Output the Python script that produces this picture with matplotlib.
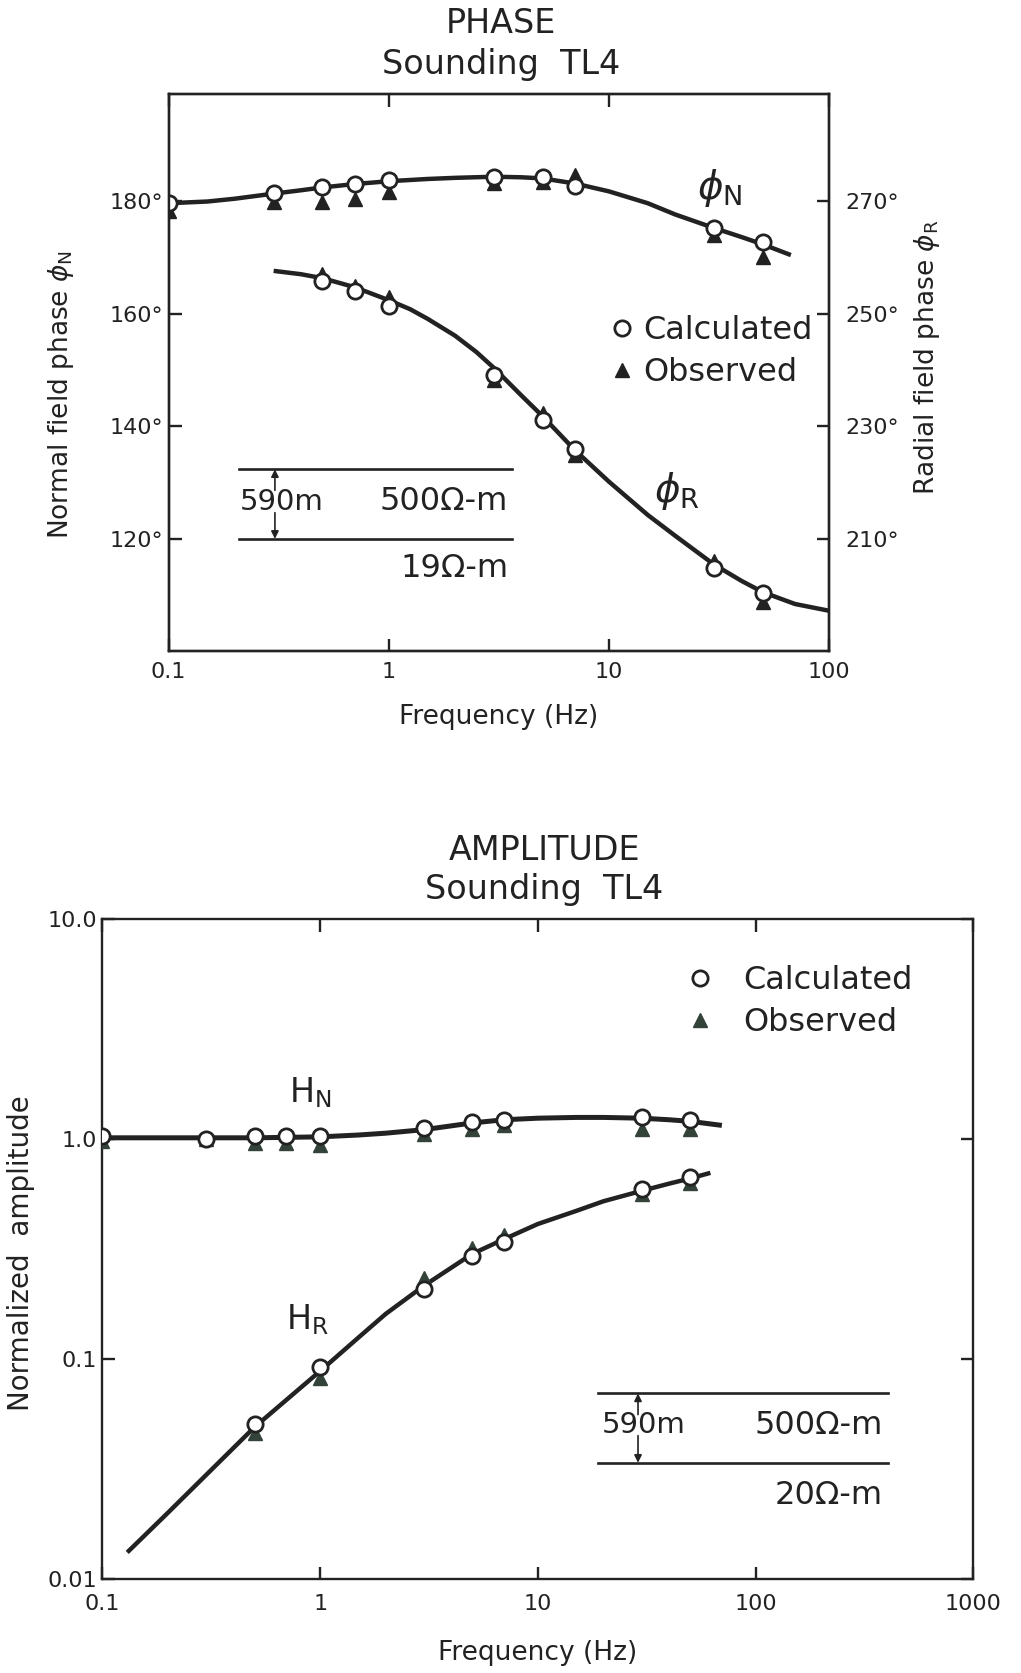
import matplotlib
matplotlib.use("Agg")
import matplotlib.pyplot as plt
from matplotlib.ticker import FixedLocator, FixedFormatter, NullLocator
from matplotlib.lines import Line2D

plt.rcParams['font.family'] = ['DejaVu Sans']
plt.rcParams['mathtext.fontset'] = 'dejavusans'

INK = '#222222'
TRI_AMP = '#34433a'

# ---- phase data (normal field on left axis, radial field on right axis) ----
freq_pts = [0.1, 0.3, 0.5, 0.7, 1, 3, 5, 7, 30, 50]
phiN_calc = [179.7, 181.5, 182.5, 183.0, 183.7, 184.3, 184.3, 182.7, 175.2, 172.7]
phiN_obs = [178.2, 179.8, 179.8, 180.3, 181.6, 183.1, 183.3, 184.6, 173.9, 170.1]

freq_curve_N = [0.1, 0.15, 0.2, 0.3, 0.4, 0.5, 0.7, 1, 1.5, 2, 3, 4, 5, 7, 10, 15, 20, 30, 40, 50, 67]
phiN_curve = [179.6, 179.9, 180.4, 181.3, 181.9, 182.4, 183.0, 183.5, 183.9, 184.1, 184.3,
              184.2, 184.0, 183.1, 181.7, 179.6, 177.6, 175.2, 173.6, 172.3, 170.4]

freq_R_pts = [0.5, 0.7, 1, 3, 5, 7, 30, 50]
phiR_calc = [255.8, 254.0, 251.3, 239.1, 231.1, 226.0, 204.9, 200.4]
phiR_obs = [257.0, 254.9, 253.0, 238.3, 232.3, 224.9, 206.2, 198.9]

freq_curve_R = [0.3, 0.4, 0.5, 0.7, 1, 1.25, 1.5, 2, 2.5, 3, 4, 5, 7, 10, 15, 20,
                30, 40, 50, 70, 100]
phiR_curve = [257.6, 257.0, 256.3, 254.7, 252.4, 250.8, 249.1, 246.1, 243.2, 240.4,
              235.5, 231.8, 225.8, 220.2, 214.3, 210.6, 205.5, 202.6, 200.6, 198.5, 197.3]

phase_left_ticks = [120, 140, 160, 180]
phase_right_ticks = [210, 230, 250, 270]
phase_x_ticks = [0.1, 1, 10, 100]
phase_x_labels = ['0.1', '1', '10', '100']

# ---- amplitude data ----
HN_calc = [1.03, 1.0, 1.03, 1.03, 1.03, 1.12, 1.19, 1.22, 1.25, 1.22]
HN_obs = [0.977, 1.0, 0.96, 0.96, 0.94, 1.05, 1.11, 1.16, 1.11, 1.11]

freq_curve_HN = [0.1, 0.3, 0.5, 1, 1.5, 2, 3, 5, 7, 10, 15, 20, 30, 40, 50, 70]
HN_curve = [1.01, 1.01, 1.01, 1.02, 1.04, 1.06, 1.10, 1.18, 1.22, 1.24, 1.25, 1.25,
            1.24, 1.22, 1.20, 1.15]

freq_HR_pts = [0.5, 1, 3, 5, 7, 30, 50]
HR_calc = [0.0507, 0.0917, 0.207, 0.292, 0.338, 0.593, 0.667]
HR_obs = [0.046, 0.0817, 0.232, 0.319, 0.365, 0.56, 0.63]

freq_curve_HR = [0.13, 0.2, 0.5, 1, 1.5, 2, 3, 5, 7, 10, 15, 20, 30, 40, 50, 62]
HR_curve = [0.0132, 0.02, 0.049, 0.088, 0.125, 0.16, 0.215, 0.30, 0.35, 0.41, 0.47,
            0.52, 0.58, 0.625, 0.66, 0.70]

amp_y_ticks = [0.01, 0.1, 1.0, 10.0]
amp_y_labels = ['0.01', '0.1', '1.0', '10.0']
amp_x_ticks = [0.1, 1, 10, 100, 1000]
amp_x_labels = ['0.1', '1', '10', '100', '1000']


def style_axis(ax):
    for s in ax.spines.values():
        s.set_linewidth(1.7)
        s.set_color(INK)
    ax.tick_params(which='major', direction='in', length=9, width=1.7,
                   colors=INK, labelsize=16)
    ax.xaxis.set_minor_locator(NullLocator())
    ax.yaxis.set_minor_locator(NullLocator())


def layer_arrows(ax, x, y_top, y_bot, y_mid, gap):
    # thickness arrows of the layer sketch, from the text out to both boundaries
    style = dict(arrowstyle='-|>', color=INK, lw=1.2, mutation_scale=11,
                 shrinkA=0, shrinkB=0)
    ax.annotate('', xy=(x, y_top), xytext=(x, y_mid + gap), xycoords='axes fraction',
                arrowprops=style)
    ax.annotate('', xy=(x, y_bot), xytext=(x, y_mid - gap), xycoords='axes fraction',
                arrowprops=style)


fig = plt.figure(figsize=(10.21, 16.73), dpi=100)

# ================= PHASE =================
ax = fig.add_axes([0.1651, 0.6110, 0.647, 0.3329])
ax.set_xscale('log')
ax.set_xlim(0.1, 100)
ax.set_ylim(100.2, 199)
style_axis(ax)
ax.xaxis.set_major_locator(FixedLocator(phase_x_ticks))
ax.xaxis.set_major_formatter(FixedFormatter(phase_x_labels))
ax.xaxis.set_minor_locator(NullLocator())
ax.set_yticks(phase_left_ticks)
ax.set_yticklabels([f'{t}°' for t in phase_left_ticks])
ax.tick_params(axis='x', top=True, pad=8)
ax.tick_params(axis='y', pad=4)

ax2 = ax.twinx()
ax2.set_ylim(190.2, 289)
style_axis(ax2)
ax2.set_yticks(phase_right_ticks)
ax2.set_yticklabels([f'{t}°' for t in phase_right_ticks])
ax2.tick_params(axis='y', pad=12)

ax.plot(freq_curve_N, phiN_curve, color=INK, lw=3.2, solid_capstyle='butt', zorder=2)
ax.plot(freq_pts, phiN_obs, ls='none', marker='^', ms=10, color=INK, zorder=3)
ax.plot(freq_pts, phiN_calc, ls='none', marker='o', ms=11, mfc='white',
        mec=INK, mew=2, zorder=4)

ax2.plot(freq_curve_R, phiR_curve, color=INK, lw=3.2, solid_capstyle='butt', zorder=2)
ax2.plot(freq_R_pts, phiR_obs, ls='none', marker='^', ms=10, color=INK, zorder=3)
ax2.plot(freq_R_pts, phiR_calc, ls='none', marker='o', ms=11, mfc='white',
         mec=INK, mew=2, zorder=4)

ax.text(25, 182.3, r'$\phi_{\mathrm{N}}$', fontsize=28, color=INK, va='center', ha='left')
ax.text(16, 128.5, r'$\phi_{\mathrm{R}}$', fontsize=28, color=INK, va='center', ha='left')

ax.set_xlabel('Frequency (Hz)', fontsize=19, color=INK)
ax.xaxis.set_label_coords(0.5, -0.095)
ax.set_ylabel(r'Normal field phase $\phi_{\mathrm{N}}$', fontsize=19, color=INK)
ax.yaxis.set_label_coords(-0.14, 0.46)
ax2.set_ylabel(r'Radial field phase $\phi_{\mathrm{R}}$', fontsize=19, color=INK,
               rotation=90)
ax2.yaxis.set_label_coords(1.125, 0.527)

handles = [Line2D([], [], ls='none', marker='o', ms=11, mfc='white', mec=INK, mew=2),
           Line2D([], [], ls='none', marker='^', ms=10, color=INK)]
leg = ax2.legend(handles, ['Calculated', 'Observed'], loc='upper left',
                 bbox_to_anchor=(0.672, 0.603), frameon=False, fontsize=23,
                 handlelength=0.6, handletextpad=0.35, borderpad=0,
                 borderaxespad=0, labelspacing=0.35)
for t in leg.get_texts():
    t.set_color(INK)

# layer model inset
ax.plot([0.107, 0.52], [0.326, 0.326], transform=ax.transAxes, color=INK, lw=1.9)
ax.plot([0.107, 0.52], [0.201, 0.201], transform=ax.transAxes, color=INK, lw=1.9)
layer_arrows(ax, 0.161, 0.326, 0.201, 0.268, 0.02)
ax.text(0.108, 0.268, '590m', transform=ax.transAxes, fontsize=21, color=INK,
        ha='left', va='center')
ax.text(0.514, 0.268, '500Ω-m', transform=ax.transAxes, fontsize=23, color=INK,
        ha='right', va='center')
ax.text(0.514, 0.147, '19Ω-m', transform=ax.transAxes, fontsize=23, color=INK,
        ha='right', va='center')

fig.text(0.491, 0.986, 'PHASE', fontsize=24, color=INK, ha='center', va='center')
fig.text(0.491, 0.9617, 'Sounding  TL4', fontsize=24, color=INK, ha='center', va='center')

# ================= AMPLITUDE =================
bx = fig.add_axes([0.1003, 0.0562, 0.853, 0.3947])
bx.set_xscale('log')
bx.set_yscale('log')
bx.set_xlim(0.1, 1000)
bx.set_ylim(0.01, 10)
style_axis(bx)
bx.xaxis.set_major_locator(FixedLocator(amp_x_ticks))
bx.xaxis.set_major_formatter(FixedFormatter(amp_x_labels))
bx.yaxis.set_major_locator(FixedLocator(amp_y_ticks))
bx.yaxis.set_major_formatter(FixedFormatter(amp_y_labels))
bx.xaxis.set_minor_locator(NullLocator())
bx.yaxis.set_minor_locator(NullLocator())
bx.tick_params(axis='both', top=True, right=True)
bx.tick_params(axis='x', pad=11)
bx.tick_params(axis='y', pad=4)

bx.plot(freq_curve_HN, HN_curve, color=INK, lw=3.6, solid_capstyle='butt', zorder=2)
bx.plot(freq_pts, HN_obs, ls='none', marker='^', ms=10, color=TRI_AMP, zorder=3)
bx.plot(freq_pts, HN_calc, ls='none', marker='o', ms=11, mfc='white',
        mec=INK, mew=2, zorder=4)

bx.plot(freq_curve_HR, HR_curve, color=INK, lw=3.2, solid_capstyle='butt', zorder=2)
bx.plot(freq_HR_pts, HR_obs, ls='none', marker='^', ms=10, color=TRI_AMP, zorder=3)
bx.plot(freq_HR_pts, HR_calc, ls='none', marker='o', ms=11, mfc='white',
        mec=INK, mew=2, zorder=4)

bx.text(0.72, 1.62, r'$\mathregular{H_N}$', fontsize=24, color=INK, va='center', ha='left')
bx.text(0.70, 0.15, r'$\mathregular{H_R}$', fontsize=24, color=INK, va='center', ha='left')

bx.set_xlabel('Frequency (Hz)', fontsize=19, color=INK)
bx.xaxis.set_label_coords(0.5, -0.093)
bx.set_ylabel('Normalized  amplitude', fontsize=20, color=INK)
bx.yaxis.set_label_coords(-0.077, 0.493)

handles_b = [Line2D([], [], ls='none', marker='o', ms=11, mfc='white', mec=INK, mew=2),
             Line2D([], [], ls='none', marker='^', ms=10, color=TRI_AMP)]
leg_b = bx.legend(handles_b, ['Calculated', 'Observed'], loc='upper left',
                  bbox_to_anchor=(0.668, 0.93), frameon=False, fontsize=23,
                  handlelength=1.0, handletextpad=0.85, borderpad=0,
                  borderaxespad=0, labelspacing=0.35)
for t in leg_b.get_texts():
    t.set_color(INK)

bx.plot([0.569, 0.902], [0.281, 0.281], transform=bx.transAxes, color=INK, lw=1.9)
bx.plot([0.569, 0.902], [0.176, 0.176], transform=bx.transAxes, color=INK, lw=1.9)
layer_arrows(bx, 0.615, 0.281, 0.176, 0.233, 0.016)
bx.text(0.573, 0.233, '590m', transform=bx.transAxes, fontsize=21, color=INK,
        ha='left', va='center')
bx.text(0.896, 0.233, '500Ω-m', transform=bx.transAxes, fontsize=23, color=INK,
        ha='right', va='center')
bx.text(0.896, 0.126, '20Ω-m', transform=bx.transAxes, fontsize=23, color=INK,
        ha='right', va='center')

fig.text(0.533, 0.4919, 'AMPLITUDE', fontsize=24, color=INK, ha='center', va='center')
fig.text(0.533, 0.4686, 'Sounding  TL4', fontsize=24, color=INK, ha='center', va='center')

fig.savefig('out.png', dpi=100, facecolor='white')
